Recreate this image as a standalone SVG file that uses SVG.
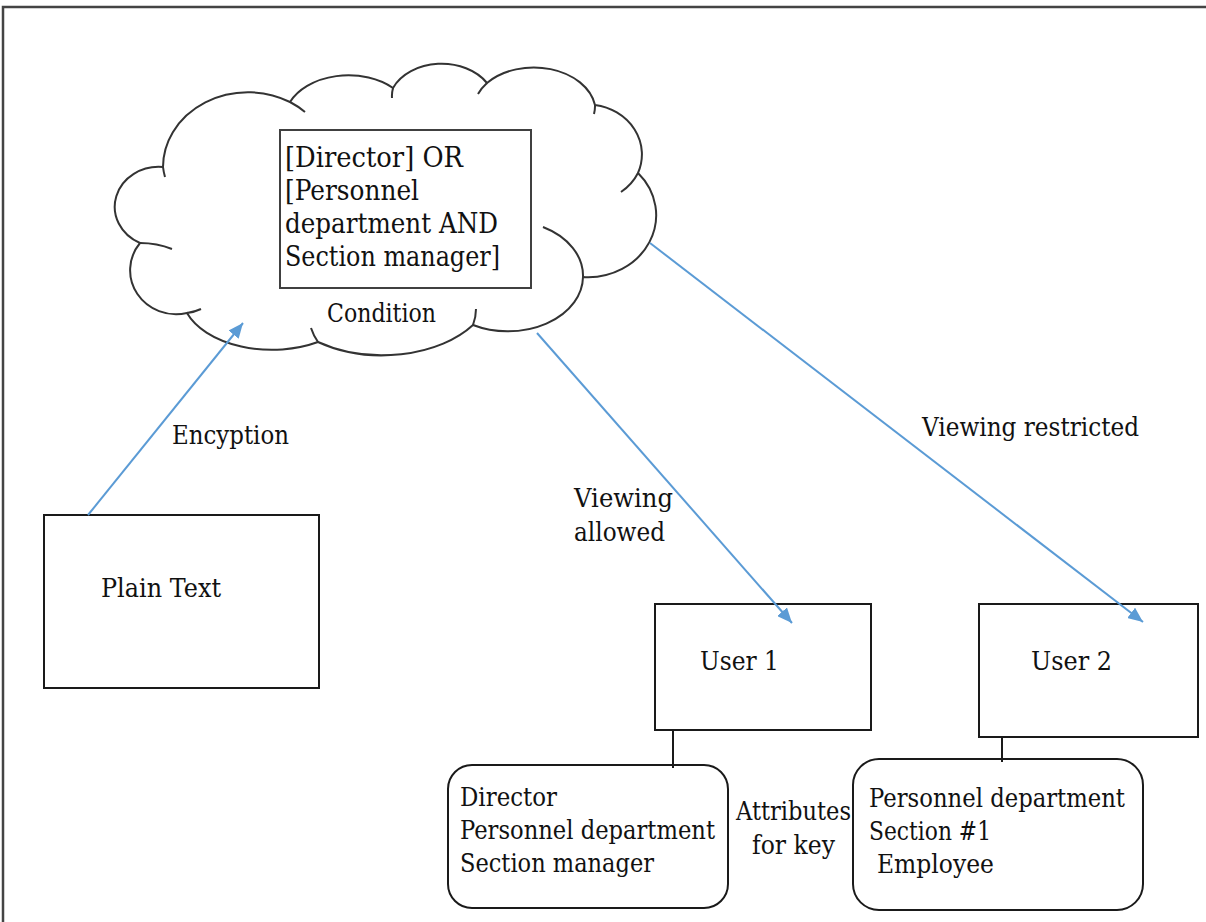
<svg xmlns="http://www.w3.org/2000/svg" width="1206" height="922" viewBox="0 0 1206 922">
  <style>
    text { font-family: 'DejaVu Serif', 'Liberation Serif', serif; font-size: 26.5px; fill: #111; }
    .big { font-size: 28px; }
    .box { fill: #fff; stroke: #1a1a1a; stroke-width: 2; }
    .cloud { fill: #fff; stroke: #333; stroke-width: 2; }
    .tail { fill: none; stroke: #333; stroke-width: 2; }
    .link { fill: none; stroke: #5B9BD5; stroke-width: 2; }
    .tie { fill: none; stroke: #1a1a1a; stroke-width: 2; }
  </style>
  <defs>
    <marker id="arrow" markerUnits="userSpaceOnUse" markerWidth="16" markerHeight="13" refX="15" refY="6.5" orient="auto">
      <path d="M0,0 L15,6.5 L0,13 Z" fill="#5B9BD5"/>
    </marker>
  </defs>

  <rect width="1206" height="922" fill="#fff"/>
  <!-- page frame -->
  <path d="M3,922 L3,7 L1206,7" fill="none" stroke="#444" stroke-width="2.5"/>

  <!-- access condition cloud -->
  <g id="condition">
    <path class="cloud" d="M163,167
      A85,75 0 0 1 290,102
      A64,45 0 0 1 393,88
      A53,40 0 0 1 487,83
      A62,45 0 0 1 595,105
      A55,50 0 0 1 638,173
      A68,62 0 0 1 583,277
      A75,55 0 0 1 473,325
      A110,70 0 0 1 318,342
      A90,55 0 0 1 187,313
      A46,44 0 0 1 140,243
      A44,40 0 0 1 163,167 Z"/>
    <path class="tail" d="M165,177 A85,75 0 0 1 163,167
      M290,102 A85,75 0 0 1 305,112
      M392,98 A53,40 0 0 1 393,88
      M478,94 A62,45 0 0 1 487,83
      M595,105 A62,45 0 0 1 594,114
      M638,173 A55,50 0 0 1 621,192
      M543,227 A75,55 0 0 1 583,277
      M476,309 A110,70 0 0 1 473,325
      M318,342 A110,70 0 0 1 311,328
      M201,309 A46,44 0 0 1 187,313
      M140,243 Q157,243 172,249"/>
    <rect x="280" y="130" width="251" height="158" fill="#fff" stroke="#404040" stroke-width="2"/>
    <text class="big" x="285" y="167" textLength="178" lengthAdjust="spacingAndGlyphs">[Director] OR</text>
    <text class="big" x="285" y="200" textLength="134" lengthAdjust="spacingAndGlyphs">[Personnel</text>
    <text class="big" x="285" y="233" textLength="213" lengthAdjust="spacingAndGlyphs">department AND</text>
    <text class="big" x="285" y="266" textLength="215" lengthAdjust="spacingAndGlyphs">Section manager]</text>
    <text x="327" y="322" textLength="109" lengthAdjust="spacingAndGlyphs">Condition</text>
  </g>

  <g id="plain-text">
    <rect class="box" x="44" y="515" width="275" height="173"/>
    <text x="101" y="597" textLength="120" lengthAdjust="spacingAndGlyphs">Plain Text</text>
  </g>

  <g id="user-1">
    <rect class="box" x="655" y="604" width="216" height="126"/>
    <text x="700" y="670" textLength="79" lengthAdjust="spacingAndGlyphs">User 1</text>
  </g>

  <g id="user-2">
    <rect class="box" x="979" y="604" width="219" height="133"/>
    <text x="1031" y="670" textLength="81" lengthAdjust="spacingAndGlyphs">User 2</text>
  </g>

  <g id="attributes-1">
    <rect class="box" x="448" y="765" width="280" height="143" rx="24" ry="24"/>
    <text x="460" y="806" textLength="97" lengthAdjust="spacingAndGlyphs">Director</text>
    <text x="460" y="839" textLength="255" lengthAdjust="spacingAndGlyphs">Personnel department</text>
    <text x="460" y="872" textLength="194" lengthAdjust="spacingAndGlyphs">Section manager</text>
  </g>

  <g id="attributes-2">
    <rect class="box" x="853" y="759" width="290" height="151" rx="26" ry="26"/>
    <text x="869" y="807" textLength="256" lengthAdjust="spacingAndGlyphs">Personnel department</text>
    <text x="869" y="840" textLength="122" lengthAdjust="spacingAndGlyphs">Section #1</text>
    <text x="877" y="873" textLength="117" lengthAdjust="spacingAndGlyphs">Employee</text>
  </g>

  <g id="key-label">
    <text x="736" y="820" textLength="115" lengthAdjust="spacingAndGlyphs">Attributes</text>
    <text x="752" y="854" textLength="83" lengthAdjust="spacingAndGlyphs">for key</text>
  </g>

  <g id="connectors">
    <path class="link" d="M88,515 L243,323" marker-end="url(#arrow)"/>
    <path class="link" d="M537,333 L792,623" marker-end="url(#arrow)"/>
    <path class="link" d="M650,243 L1143,622" marker-end="url(#arrow)"/>
    <path class="tie" d="M673,730 L673,768"/>
    <path class="tie" d="M1002,737 L1002,762"/>
    <text x="172" y="444" textLength="117" lengthAdjust="spacingAndGlyphs">Encyption</text>
    <text x="574" y="507" textLength="99" lengthAdjust="spacingAndGlyphs">Viewing</text>
    <text x="574" y="541" textLength="91" lengthAdjust="spacingAndGlyphs">allowed</text>
    <text x="922" y="436" textLength="217" lengthAdjust="spacingAndGlyphs">Viewing restricted</text>
  </g>
</svg>
